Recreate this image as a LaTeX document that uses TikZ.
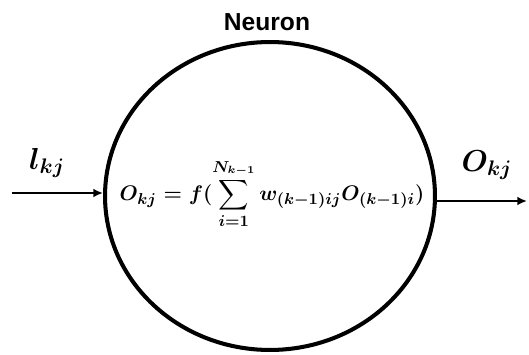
\documentclass[tikz,border=0pt]{standalone}
\usepackage{amsmath}
\usepackage{fontspec}
\newfontfamily\titlefont{Liberation Sans}
\usetikzlibrary{arrows.meta,shapes.geometric,positioning}
\tikzset{
  cell/.style={ellipse,draw,line width=2.3pt,minimum width=6.6cm,minimum height=6.16cm,inner sep=0pt},
  mathtext/.style={font=\fontsize{17}{20}\selectfont\boldmath},
  ruletext/.style={font=\fontsize{13}{16}\selectfont\boldmath,inner sep=0pt},
  wire/.style={->,line width=1.1pt}
}

\begin{document}
\begin{tikzpicture}[x=0.02cm,y=-0.02cm,>={Latex[length=5.5pt,width=5pt]}]
  \useasboundingbox (0,0) rectangle (529,355);

  % neuron body and its rule
  \node[cell] (neuron) at (270,196) {};
  \node[ruletext] (rule) at (272,194) {$\displaystyle O_{kj}=f(\sum_{i=1}^{N_{k-1}} w_{(k-1)ij}O_{(k-1)i})$};
  \node[font=\titlefont\bfseries\fontsize{14}{16}\selectfont] (title) at (267,22) {Neuron};

  % input and output
  \coordinate (in) at (12,193);
  \coordinate (out) at (527,201);
  \draw[wire] (in) -- (in -| neuron.west);
  \draw[wire] (neuron.east |- out) -- (out);
  \node[mathtext] (inlabel) at (47,163) {$l_{kj}$};
  \node[mathtext] (outlabel) at (487,165) {$O_{kj}$};
\end{tikzpicture}
\end{document}
